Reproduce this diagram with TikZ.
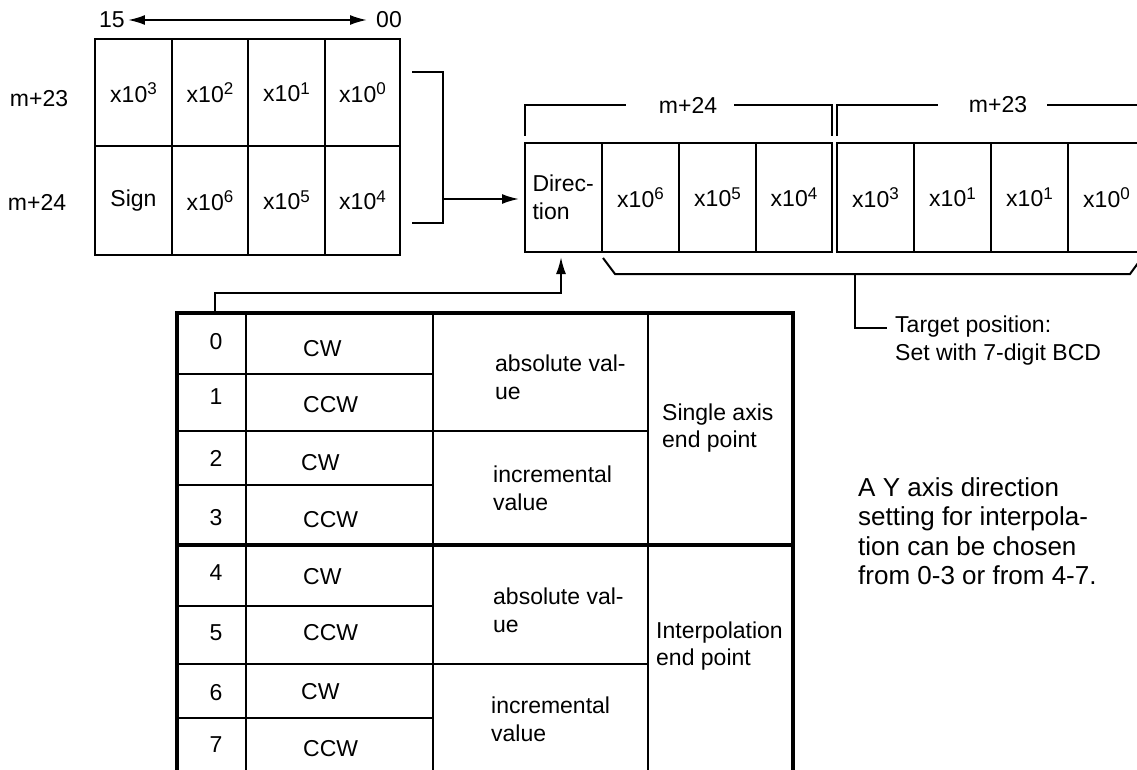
\documentclass[tikz,border=0pt]{standalone}
\usepackage{fontspec}
\setmainfont{Liberation Sans}
\usetikzlibrary{arrows.meta}
\newcommand\pwr[1]{x10\raisebox{7.5pt}{\fontsize{17}{17}\selectfont #1}}
\begin{document}
\begin{tikzpicture}[x=1pt,y=-1pt,
  every node/.style={font=\fontsize{23}{28}\selectfont, inner sep=0pt},
  ln/.style={line width=2pt},
  thick4/.style={line width=4pt},
  cellbox/.style={draw, line width=2pt, minimum width=#1, minimum height=108pt},
  regbox/.style={draw, line width=2pt, minimum width=77pt, minimum height=109pt},
  arr/.style={-{Latex[length=17pt,width=10pt]}, line width=2pt},
  dblarr/.style={{Latex[length=17pt,width=10pt]}-{Latex[length=17pt,width=10pt]}, line width=2pt},
  lefttxt/.style={anchor=west, align=left},
  notefont/.style={font=\fontsize{26}{29.5}\selectfont}
]
\useasboundingbox (0,0) rectangle (1137,770);
\clip (0,0) rectangle (1137,770);

% ---- left register ----
\node (n15) at (112,20) {15};
\node (n00) at (389,20) {00};
\draw[dblarr] ([xshift=3pt]n15.east) -- ([xshift=-9pt]n00.west);

\node (r23) at (39,99) {m+23};
\node (r24) at (37,202) {m+24};

\node[cellbox=77pt, minimum height=107pt] (L13) at (133.5,92.5) {\pwr{3}};
\node[cellbox=76pt, minimum height=107pt] (L12) at (210,92.5) {\pwr{2}};
\node[cellbox=77pt, minimum height=107pt] (L11) at (286.5,92.5) {\pwr{1}};
\node[cellbox=75pt, minimum height=107pt] (L10) at (362.5,92.5) {\pwr{0}};
\node[cellbox=77pt, minimum height=109pt] (LS) at (133.5,200.5) {Sign};
\node[cellbox=76pt, minimum height=109pt] (L16) at (210,200.5) {\pwr{6}};
\node[cellbox=77pt, minimum height=109pt] (L15) at (286.5,200.5) {\pwr{5}};
\node[cellbox=75pt, minimum height=109pt] (L14) at (362.5,200.5) {\pwr{4}};

% bracket joining the two words
\coordinate (b1) at (412,72);
\coordinate (b2) at (443,72);
\coordinate (b3) at (443,223);
\coordinate (b4) at (412,223);
\coordinate (bout) at (443,199);
\draw[ln] (b1) -- (b2) -- (b3) -- (b4);

% ---- right register ----
\node[regbox, lefttxt, anchor=center, text width=62pt] (R1) at (563.5,197.5) {Direc-\\tion};
\node[regbox] (R2) at (640.5,197.5) {\pwr{6}};
\node[regbox] (R3) at (717.5,197.5) {\pwr{5}};
\node[regbox, minimum width=76pt] (R4) at (794,197.5) {\pwr{4}};
\node[regbox] (R5) at (875.5,197.5) {\pwr{3}};
\node[regbox] (R6) at (952.5,197.5) {\pwr{1}};
\node[regbox] (R7) at (1029.5,197.5) {\pwr{1}};
\node[regbox] (R8) at (1106.5,197.5) {\pwr{0}};

\draw[arr, shorten >=5pt] (bout) -- (R1.west |- bout);

% word brackets above
\node (m24) at (688,105) {m+24};
\node (m23) at (998,105) {m+23};
\draw[ln] (525,136) -- (525,105) -- (626,105);
\draw[ln] (734,105) -- (832,105) -- (832,136);
\draw[ln] (837,136) -- (837,105) -- (938,105);
\draw[ln] (1047,105) -- (1145,105);

% brace under the digits
\coordinate (bs) at (855,274);
\draw[ln] (603,258) -- (615,274) -- (1130,274) -- (1141,259);
\node[lefttxt] (tgt) at (895,341) {Target position:\\Set with 7-digit BCD};
\draw[ln] (bs) -- (855,328) -- (887,328);

% ---- table ----
\draw[thick4] (177,313) rectangle (793,800);
\draw[thick4] (177,545) -- (793,545);
\draw[ln] (246,313) -- (246,800);
\draw[ln] (433,313) -- (433,800);
\draw[ln] (648,313) -- (648,800);
\draw[ln] (177,374) -- (433,374);
\draw[ln] (177,431) -- (648,431);
\draw[ln] (177,485) -- (433,485);
\draw[ln] (177,606) -- (433,606);
\draw[ln] (177,664) -- (648,664);
\draw[ln] (177,718) -- (433,718);

\coordinate (tstem) at (215,313);
\draw[arr, shorten >=4pt] (tstem) -- (215,293) -- (561,293) -- (561,0 |- R1.south);

\node (t0) at (216,342) {0};
\node (t1) at (216,397) {1};
\node (t2) at (216,458) {2};
\node (t3) at (216,518) {3};
\node (t4) at (216,573) {4};
\node (t5) at (216,633) {5};
\node (t6) at (216,693) {6};
\node (t7) at (216,745) {7};

\node[anchor=west] (c0) at (303,349) {CW};
\node[anchor=west] (c1) at (303,405) {CCW};
\node[anchor=west] (c2) at (301,463) {CW};
\node[anchor=west] (c3) at (303,520) {CCW};
\node[anchor=west] (c4) at (303,577) {CW};
\node[anchor=west] (c5) at (303,633) {CCW};
\node[anchor=west] (c6) at (301,692) {CW};
\node[anchor=west] (c7) at (303,749) {CCW};

\node[lefttxt] (v1) at (495,377) {absolute val-\\ue};
\node[lefttxt] (v2) at (493,488) {incremental\\value};
\node[lefttxt] (v3) at (493,610) {absolute val-\\ue};
\node[lefttxt] (v4) at (491,719) {incremental\\value};

\node[lefttxt, font=\fontsize{23}{27}\selectfont] (s1) at (662,428.5) {Single axis\\end point};
\node[lefttxt, font=\fontsize{23}{27}\selectfont] (s2) at (656,646.5) {Interpolation\\end point};

% ---- note ----
\node[lefttxt, notefont] (note) at (858,531) {A Y axis direction\\setting for interpola-\\tion can be chosen\\from 0-3 or from 4-7.};
\end{tikzpicture}
\end{document}
